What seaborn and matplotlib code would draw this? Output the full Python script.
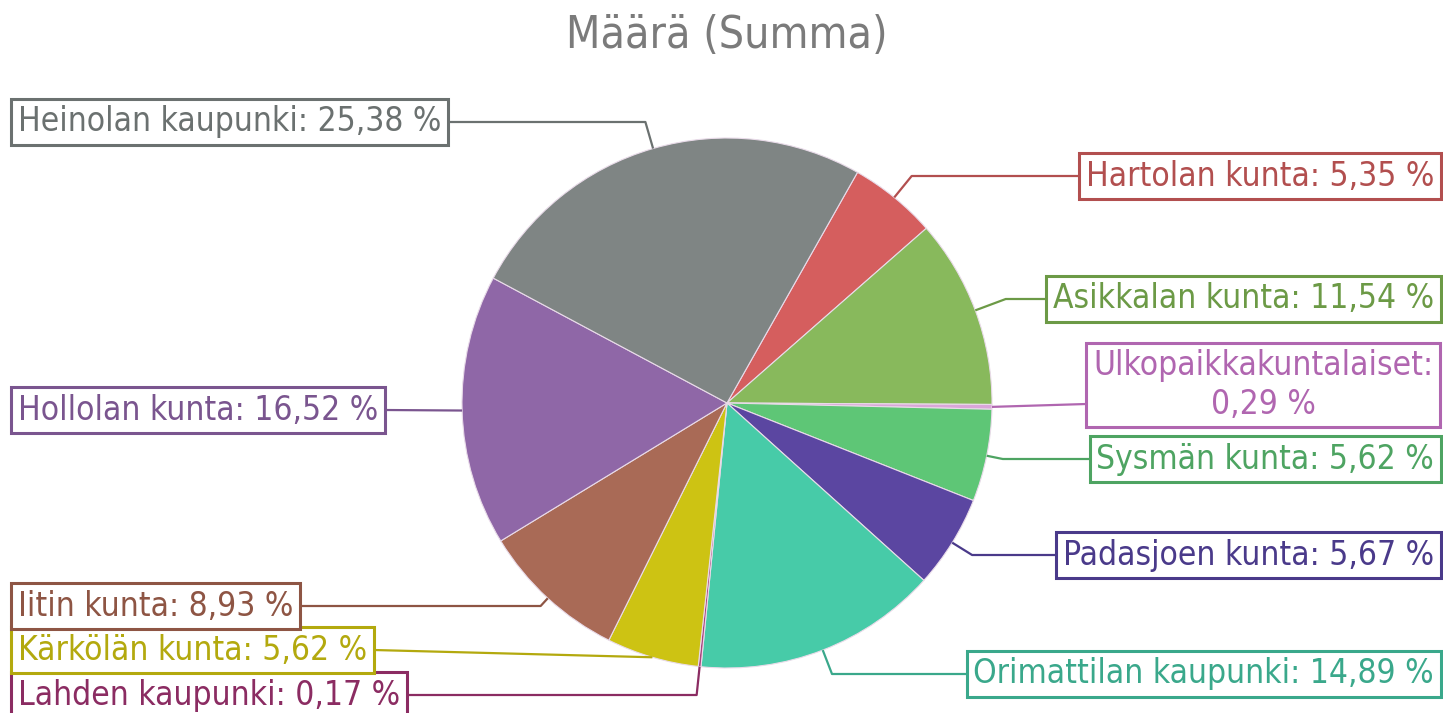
import numpy as np
import matplotlib
matplotlib.use("Agg")
import matplotlib.pyplot as plt
import seaborn as sns

# data
title = "Määrä (Summa)"
kunnat = ["Hartolan kunta", "Asikkalan kunta", "Ulkopaikkakuntalaiset", "Sysmän kunta",
          "Padasjoen kunta", "Orimattilan kaupunki", "Lahden kaupunki", "Kärkölän kunta",
          "Iitin kunta", "Hollolan kunta", "Heinolan kaupunki"]
osuus = [5.35, 11.54, 0.29, 5.62, 5.67, 14.89, 0.17, 5.62, 8.93, 16.52, 25.38]

slice_colors = ["#d55e5e", "#88b95c", "#d9a6d9", "#5ec676", "#5b46a1", "#47cba8",
                "#a8457e", "#cdc313", "#a96a56", "#8f67a7", "#7f8584"]
line_colors = ["#b24f4f", "#6c9a46", "#b066b0", "#4ea462", "#4a3a8a", "#3aa88b",
               "#8b2c62", "#b3a90e", "#8e5544", "#7a558f", "#6b7170"]

# label placement in image pixels: (x, y of text, alignment, y of connector)
label_pos = [(1434, 176, "right", 176), (1434, 299, "right", 299), (1263, 385, "center", 404),
             (1434, 459, "right", 459), (1434, 555, "right", 555), (1434, 674, "right", 674),
             (18, 695, "left", 695), (18, 650, "left", 650), (18, 606, "left", 606),
             (18, 410, "left", 410), (18, 122, "left", 122)]

W, H = 1443, 713
cx, cy, rad = 727, H - 403, 265

sns.set_theme(style="white")
plt.rcParams["font.family"] = ["DejaVu Sans"]

fig = plt.figure(figsize=(W / 100, H / 100), dpi=100)
ax = fig.add_axes([0, 0, 1, 1])
pal = sns.color_palette(slice_colors)

wedges, _ = ax.pie(osuus, colors=pal, startangle=60.5, counterclock=False,
                   center=(cx, cy), radius=rad,
                   wedgeprops=dict(edgecolor="#e9dbe9", linewidth=0.8))
ax.set_xlim(0, W)
ax.set_ylim(0, H)
ax.set_aspect("auto")
ax.axis("off")

texts = []
for name, val, col, (x, y, ha, yc) in zip(kunnat, osuus, line_colors, label_pos):
    sep = ":\n" if ha == "center" else ": "
    lab = name + sep + f"{val:.2f} %".replace(".", ",")
    t = ax.text(x, H - y, lab, ha=ha, va="center", fontsize=24, color=col,
                fontstretch="condensed", multialignment="center", zorder=5,
                bbox=dict(boxstyle="square,pad=0.2", fc="white", ec=col, lw=2.2))
    texts.append(t)

ax.text(727, H - 35, title, ha="center", va="center", fontsize=32,
        fontstretch="condensed", color="#7b7b7b")

fig.canvas.draw()
for w, t, col, (x, y, ha, yc) in zip(wedges, texts, line_colors, label_pos):
    mid = np.deg2rad((w.theta1 + w.theta2) / 2)
    ex, ey = cx + rad * np.cos(mid), cy + rad * np.sin(mid)
    ycd = H - yc
    r2 = None
    if abs(np.sin(mid)) > 0.05:
        r2 = (ycd - cy) / np.sin(mid)
    if r2 is None or r2 < rad + 5 or r2 > rad + 45:
        r2 = rad
    kx, ky = cx + r2 * np.cos(mid), cy + r2 * np.sin(mid)
    bb = t.get_bbox_patch().get_window_extent()
    bx = bb.x0 if ha != "left" else bb.x1
    ax.plot([ex, kx, bx], [ey, ky, ycd], color=col, lw=1.6, zorder=3,
            solid_capstyle="butt")

fig.savefig("out.png", dpi=100)
